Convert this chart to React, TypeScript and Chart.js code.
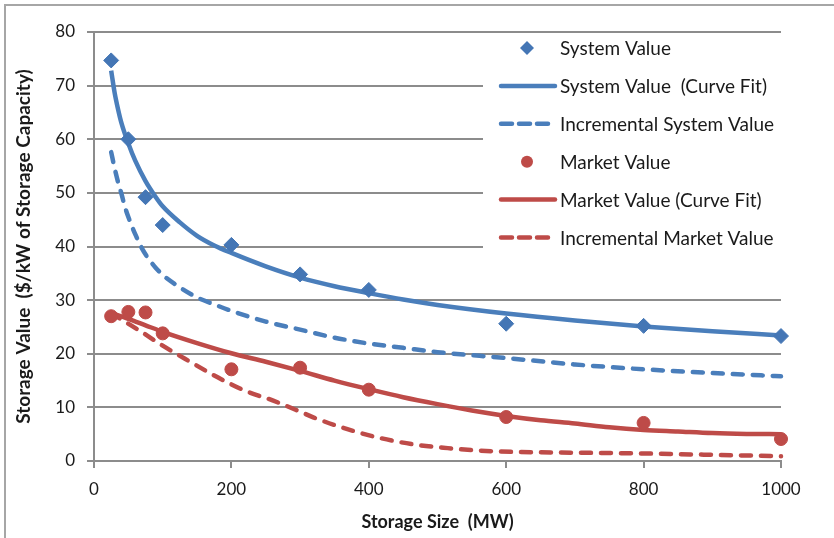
import React, { useEffect, useRef } from "react";
import { Chart, registerables } from "chart.js";

Chart.register(...registerables);

// ---- Data ----
const storageSizes = [25, 50, 75, 100, 200, 300, 400, 600, 800, 1000];
const systemValue = [74.7, 60.0, 49.2, 44.0, 40.3, 34.8, 31.9, 25.6, 25.2, 23.3];
const marketValue = [27.0, 27.8, 27.7, 23.8, 17.1, 17.4, 13.3, 8.2, 7.1, 4.1];

const systemFitSizes = [25, 30, 35, 40, 50, 60, 75, 90, 100, 125, 150, 175, 200, 250, 300, 350, 400, 450, 500, 600, 700, 800, 900, 1000];
const systemFitValue = [72.8, 68.7, 65.6, 63.0, 59.2, 56.0, 52.2, 49.2, 47.5, 44.5, 42.0, 40.2, 38.8, 36.3, 34.2, 32.6, 31.3, 30.1, 29.1, 27.5, 26.2, 25.1, 24.2, 23.4];

const incSystemSizes = [25, 30, 35, 40, 45, 50, 60, 70, 80, 90, 100, 120, 150, 175, 200, 250, 300, 350, 400, 450, 500, 600, 700, 800, 900, 1000];
const incSystemValue = [57.6, 54.6, 52.0, 49.8, 47.4, 45.5, 42.3, 39.6, 37.6, 36.0, 34.7, 32.8, 30.5, 29.2, 28.0, 26.0, 24.5, 23.0, 21.9, 21.1, 20.3, 19.2, 18.0, 17.1, 16.4, 15.8];

const marketFitSizes = [25, 50, 75, 100, 150, 200, 250, 300, 350, 400, 450, 500, 550, 600, 650, 700, 750, 800, 850, 900, 950, 1000];
const marketFitValue = [27.6, 26.5, 25.3, 24.1, 22.0, 20.1, 18.5, 16.8, 15.0, 13.4, 11.9, 10.6, 9.4, 8.4, 7.6, 7.0, 6.3, 5.8, 5.5, 5.2, 5.05, 5.0];

const incMarketSizes = [25, 45, 70, 100, 140, 180, 220, 260, 300, 320, 370, 416, 465, 515, 560, 610, 700, 800, 900, 1000];
const incMarketValue = [27.6, 26.0, 24.0, 21.5, 18.5, 15.6, 13.1, 11.3, 9.2, 8.1, 5.9, 4.3, 3.1, 2.4, 1.95, 1.7, 1.55, 1.4, 1.15, 0.9];

const seriesLabels = [
  "System Value",
  "System Value  (Curve Fit)",
  "Incremental System Value",
  "Market Value",
  "Market Value (Curve Fit)",
  "Incremental Market Value",
];

const xTitle = "Storage Size  (MW)";
const yTitle = "Storage Value  ($/kW of Storage Capacity)";

const BLUE = "#4a7ebb";
const RED = "#be4b48";
const GRID = "#8c8c8c";
const FONT = "Lato, 'Open Sans', sans-serif";

const toPoints = (xs: number[], ys: number[]) => xs.map((x, i) => ({ x, y: ys[i] }));

const legendPlugin = {
  id: "insideLegend",
  beforeDatasetsDraw(chart: any) {
    const { ctx } = chart;
    ctx.save();
    ctx.fillStyle = "#ffffff";
    ctx.fillRect(483, 34, 330, 221);
    const datasets = chart.data.datasets;
    const rowY0 = 48;
    const rowStep = 37.9;
    ctx.font = `19px ${FONT}`;
    ctx.textBaseline = "middle";
    ctx.textAlign = "left";
    datasets.forEach((ds: any, i: number) => {
      const y = rowY0 + i * rowStep;
      const kind = ds._legendKind;
      ctx.strokeStyle = ds.borderColor;
      ctx.fillStyle = ds.pointBackgroundColor || ds.borderColor;
      if (kind === "diamond") {
        const r = 7;
        ctx.beginPath();
        ctx.moveTo(527, y - r);
        ctx.lineTo(527 + r, y);
        ctx.lineTo(527, y + r);
        ctx.lineTo(527 - r, y);
        ctx.closePath();
        ctx.fill();
      } else if (kind === "circle") {
        ctx.beginPath();
        ctx.arc(527, y, 6, 0, Math.PI * 2);
        ctx.fill();
      } else {
        ctx.lineWidth = 4.5;
        ctx.lineCap = "round";
        ctx.setLineDash(kind === "dash" ? [11, 7] : []);
        ctx.beginPath();
        ctx.moveTo(501, y);
        ctx.lineTo(kind === "dash" ? 551 : 555, y);
        ctx.stroke();
        ctx.setLineDash([]);
      }
      ctx.fillStyle = "#1a1a1a";
      ctx.fillText(ds.label, 560, y + 1);
    });
    ctx.restore();
  },
};

export default function App() {
  const canvasRef = useRef<HTMLCanvasElement | null>(null);

  useEffect(() => {
    if (!canvasRef.current) return;
    const chart = new Chart(canvasRef.current, {
      type: "scatter",
      data: {
        datasets: [
          {
            label: seriesLabels[0],
            data: toPoints(storageSizes, systemValue),
            showLine: false,
            pointStyle: "rectRot",
            pointRadius: 7.5,
            pointBackgroundColor: "#4476b5",
            pointBorderColor: "#4476b5",
            borderColor: "#4476b5",
            clip: false,
            order: 1,
            _legendKind: "diamond",
          } as any,
          {
            label: seriesLabels[1],
            data: toPoints(systemFitSizes, systemFitValue),
            showLine: true,
            pointRadius: 0,
            borderColor: BLUE,
            borderWidth: 4.5,
            cubicInterpolationMode: "monotone",
            clip: false,
            order: 2,
            _legendKind: "line",
          } as any,
          {
            label: seriesLabels[2],
            data: toPoints(incSystemSizes, incSystemValue),
            showLine: true,
            pointRadius: 0,
            borderColor: BLUE,
            borderWidth: 4.5,
            borderDash: [10, 10],
            borderCapStyle: "round",
            cubicInterpolationMode: "monotone",
            clip: false,
            order: 2,
            _legendKind: "dash",
          } as any,
          {
            label: seriesLabels[3],
            data: toPoints(storageSizes, marketValue),
            showLine: false,
            pointStyle: "circle",
            pointRadius: 6.5,
            pointBackgroundColor: RED,
            pointBorderColor: RED,
            borderColor: RED,
            clip: false,
            order: 1,
            _legendKind: "circle",
          } as any,
          {
            label: seriesLabels[4],
            data: toPoints(marketFitSizes, marketFitValue),
            showLine: true,
            pointRadius: 0,
            borderColor: RED,
            borderWidth: 4.5,
            cubicInterpolationMode: "monotone",
            clip: false,
            order: 2,
            _legendKind: "line",
          } as any,
          {
            label: seriesLabels[5],
            data: toPoints(incMarketSizes, incMarketValue),
            showLine: true,
            pointRadius: 0,
            borderColor: RED,
            borderWidth: 4.5,
            borderDash: [10, 10],
            borderCapStyle: "round",
            cubicInterpolationMode: "monotone",
            clip: false,
            order: 2,
            _legendKind: "dash",
          } as any,
        ],
      },
      options: {
        animation: false,
        responsive: false,
        maintainAspectRatio: false,
        layout: { padding: { top: 32, right: 53, bottom: 0, left: 0 } },
        plugins: {
          legend: { display: false },
          tooltip: { enabled: false },
          title: { display: false },
        },
        scales: {
          x: {
            type: "linear",
            min: 0,
            max: 1000,
            ticks: {
              stepSize: 200,
              padding: 11,
              color: "#1a1a1a",
              font: { family: FONT, size: 17 },
              maxRotation: 0,
              callback: (v: any) => String(v),
            },
            grid: {
              drawOnChartArea: false,
              drawTicks: true,
              tickLength: 7,
              color: GRID,
              lineWidth: 2,
            },
            border: { display: true, color: GRID, width: 2 },
            title: {
              display: true,
              text: xTitle,
              color: "#1a1a1a",
              font: { family: FONT, size: 18, weight: "bold" },
              padding: { top: 0, bottom: 5 },
            },
            afterFit: (scale: any) => {
              scale.height = 77;
            },
          },
          y: {
            type: "linear",
            min: 0,
            max: 80,
            ticks: {
              stepSize: 10,
              padding: 12,
              color: "#1a1a1a",
              font: { family: FONT, size: 17 },
              callback: (v: any) => String(v),
            },
            grid: {
              drawOnChartArea: true,
              drawTicks: true,
              tickLength: 7,
              color: GRID,
              lineWidth: 2,
            },
            border: { display: true, color: GRID, width: 2 },
            title: {
              display: true,
              text: yTitle,
              color: "#1a1a1a",
              font: { family: FONT, size: 19, weight: "bold" },
              padding: { top: 12, bottom: 0 },
            },
            afterFit: (scale: any) => {
              scale.width = 94;
            },
          },
        },
      } as any,
      plugins: [legendPlugin],
    });
    return () => chart.destroy();
  }, []);

  return (
    <div
      style={{
        position: "fixed",
        left: 0,
        top: 0,
        width: 834,
        height: 538,
        overflow: "hidden",
        background: "#ffffff",
      }}
    >
      <canvas ref={canvasRef} width={834} height={538} style={{ position: "absolute", left: 0, top: 0 }} />
      <div
        style={{
          position: "absolute",
          left: 4,
          top: 4,
          width: 900,
          height: 600,
          borderTop: "2px solid #a6a6a6",
          borderLeft: "2px solid #a6a6a6",
          pointerEvents: "none",
        }}
      />
    </div>
  );
}
